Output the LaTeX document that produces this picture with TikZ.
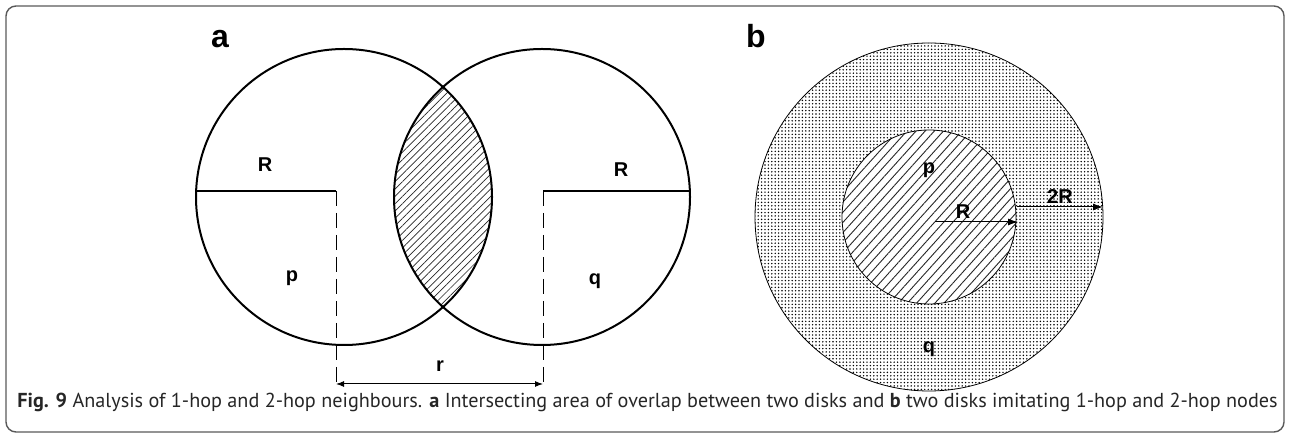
\documentclass[tikz,border=0pt]{standalone}
\usepackage{fontspec}
\setmainfont{Liberation Sans}
\newfontfamily\capfont{PT Sans}
\usetikzlibrary{patterns.meta,arrows.meta}
\begin{document}
\begin{tikzpicture}[x=0.5pt,y=-0.5pt,
  lbl/.style={font=\fontsize{10}{11}\selectfont\bfseries, inner sep=0pt, anchor=base},
  panellbl/.style={font=\fontsize{16}{17}\selectfont\bfseries, inner sep=0pt, anchor=base},
  thickcirc/.style={line width=1pt},
  thincirc/.style={line width=0.4pt},
  radline/.style={line width=0.8pt},
  dashline/.style={line width=0.5pt, dash pattern=on 7.5pt off 3.5pt},
  hatchA/.style={pattern={Lines[angle=45,distance=2.6pt,line width=0.35pt]}, pattern color=black!85},
  hatchB/.style={pattern={Lines[angle=48,distance=3.4pt,line width=0.45pt]}, pattern color=black!85},
  dotfill/.style={pattern={Dots[distance=1.7pt,radius=0.4pt]}, pattern color=black},
  dimarrow/.style={line width=0.5pt, {Latex[length=4pt,width=3pt]}-{Latex[length=4pt,width=3pt]}},
  radarrow/.style={line width=0.5pt, -{Latex[length=5pt,width=3.5pt]}}]
\useasboundingbox (0,0) rectangle (1290,437);
\draw[black!65, line width=0.7pt, rounded corners=5pt] (6,6) rectangle (1284,432);

% ---------- panel a ----------
\coordinate (pc) at (344,197);
\coordinate (qc) at (542,197);
\begin{scope}
  \clip (pc) circle[radius=148];
  \fill[hatchA] (qc) circle[radius=148];
\end{scope}
\draw[thickcirc] (pc) circle[radius=148];
\draw[thickcirc] (qc) circle[radius=148];

\coordinate (pl) at (196,191);
\coordinate (pm) at (336,191);
\coordinate (pb) at (336,387);
\coordinate (qr) at (690,191);
\coordinate (qm) at (543,191);
\coordinate (qb) at (543,387);
\draw[radline] (pl) -- (pm);
\draw[radline] (qm) -- (qr);
\draw[dashline] (pm) -- (pb);
\draw[dashline] (qm) -- (qb);
\coordinate (ra) at (336,384);
\coordinate (rb) at (543,384);
\draw[dimarrow] (ra) -- (rb);

\node[panellbl] (la) at (220,48) {a};
\node[lbl] (Rp) at (265,172) {R};
\node[lbl] (Rq) at (621,177) {R};
\node[lbl] (p1) at (292,282) {p};
\node[lbl] (q1) at (595,285) {q};
\node[lbl] (r1) at (440,372) {r};

% ---------- panel b ----------
\coordinate (bc) at (929,217);
\fill[dotfill] (bc) circle[radius=174];
\draw[thincirc] (bc) circle[radius=174];
\fill[white] (bc) circle[radius=87];
\fill[hatchB] (bc) circle[radius=87];
\draw[thincirc] (bc) circle[radius=87];

\node[panellbl] (lb) at (756,48) {b};
\node[lbl] (p2) at (929,174) {p};
\node[lbl] (q2) at (929,353) {q};
\node[lbl] (R2) at (963,219) {R};
\node[lbl] (R22) at (1060,204) {2R};

\coordinate (a1s) at (935,222);
\coordinate (a1e) at (1018,222);
\coordinate (a2s) at (1017,207);
\coordinate (a2e) at (1103,207);
\draw[radarrow] (a1s) -- (a1e);
\draw[radarrow] (a2s) -- (a2e);

% ---------- caption ----------
\node[anchor=base west, inner sep=0pt, text=black!85,
      font=\capfont\fontsize{10.1}{12}\selectfont] (cap) at (17,408)
  {\textbf{Fig. 9} Analysis of 1-hop and 2-hop neighbours. \textbf{a} Intersecting area of overlap between two disks and \textbf{b} two disks imitating 1-hop and 2-hop nodes};
\end{tikzpicture}
\end{document}
